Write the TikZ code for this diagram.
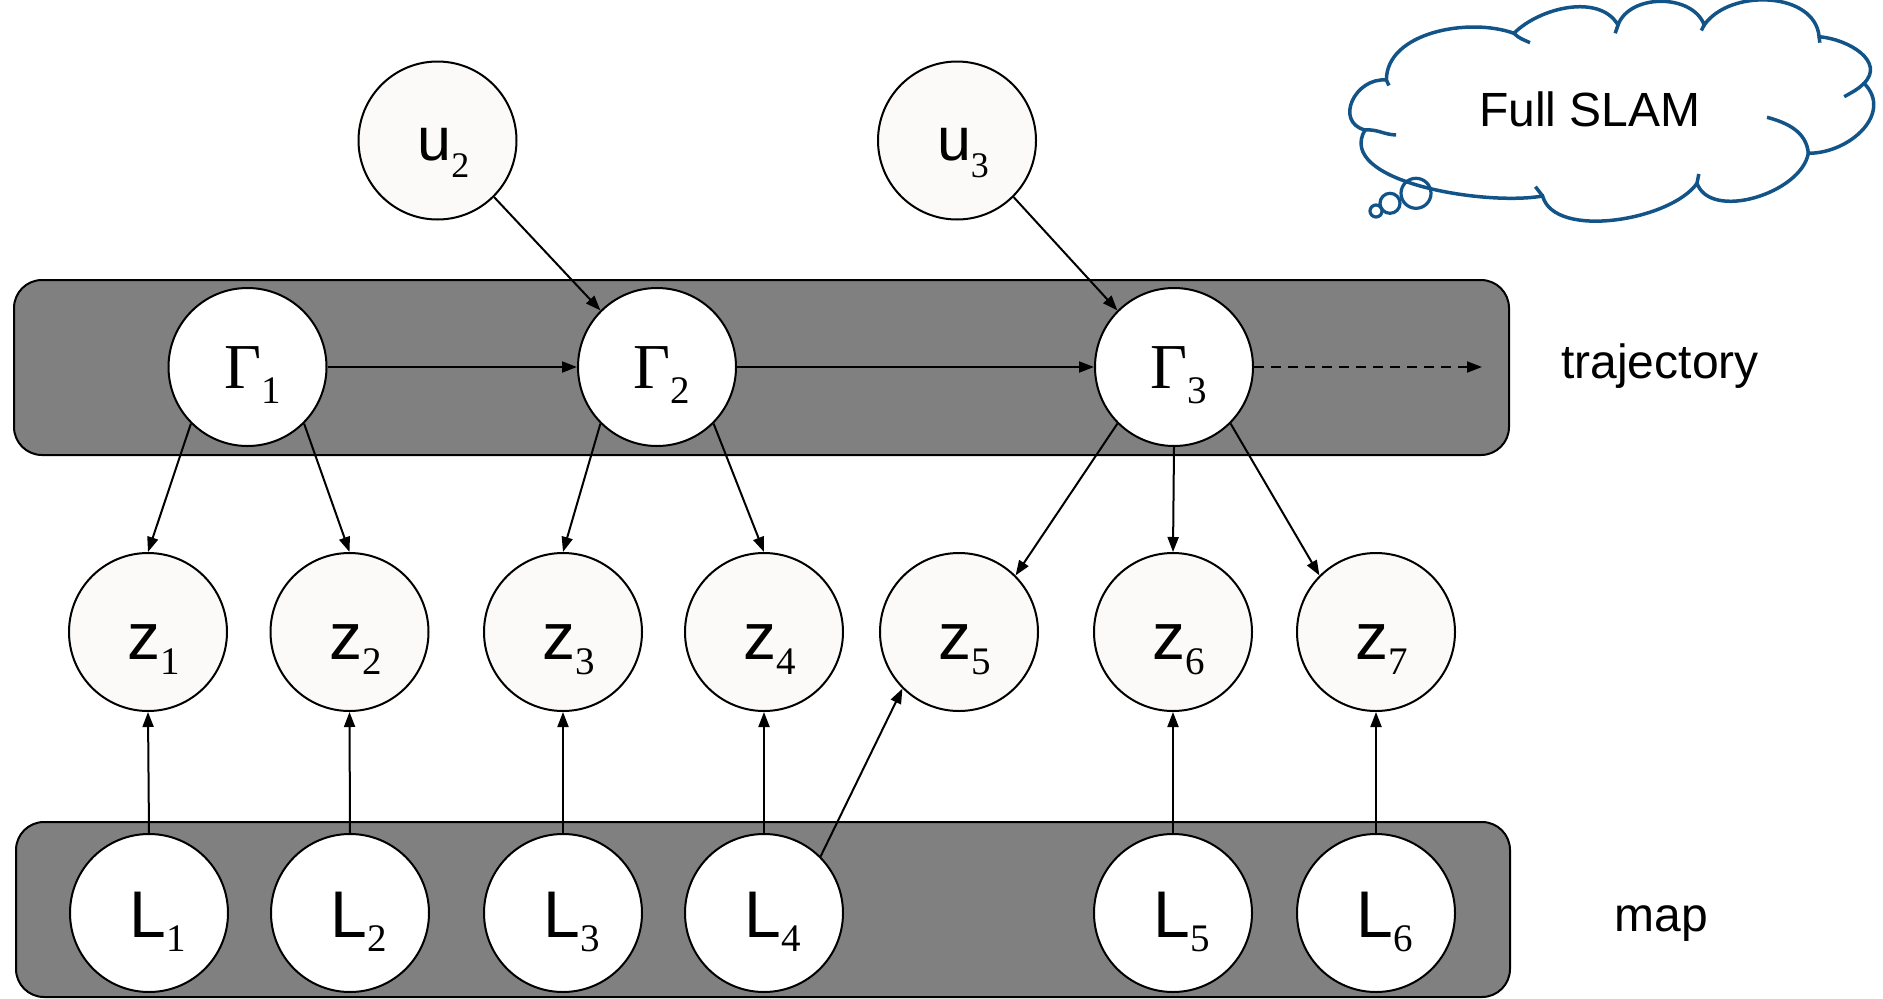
\documentclass[tikz,border=0pt]{standalone}
\usepackage{fontspec}
\setmainfont{Liberation Serif}
\newfontfamily\arialf{Liberation Sans}
\usetikzlibrary{arrows.meta}
\definecolor{offw}{RGB}{251,250,248}
\definecolor{bandgray}{RGB}{128,128,128}
\definecolor{cloudblue}{RGB}{18,84,136}
\newcommand\nlbl[7]{\kern#7pt{#1\fontsize{#2}{#2}\selectfont #3}\raisebox{-#6pt}{\rmfamily\fontsize{#4}{#4}\selectfont #5}}
\begin{document}
\begin{tikzpicture}[x=1pt,y=1pt,
  nd/.style={circle, draw=black, line width=2pt, minimum size=158pt, inner sep=0pt, text depth=0pt},
  zn/.style={nd, fill=offw, text height=54pt},
  un/.style={nd, fill=offw, text height=40pt},
  Ln/.style={nd, fill=white, text height=49pt},
  Gn/.style={nd, fill=white, text height=42pt},
  band/.style={fill=bandgray, draw=black, line width=2pt, rounded corners=28pt},
  arr/.style={draw=black, line width=2pt, -{Triangle[length=15pt,width=11pt]}},
  side/.style={font=\arialf\fontsize{48}{48}\selectfont, anchor=base, inner sep=0pt},
  cl/.style={draw=cloudblue, line width=3.5pt}
]
\useasboundingbox (0,0) rectangle (1883,-999);
% bands
\path[band] (14,-280) rectangle (1509,-455);
\path[band] (16,-822) rectangle (1510,-997);
% nodes
\node[un] (u2) at (437.5,-140.5) {\nlbl{\arialf}{61}{u}{36}{2}{17}{12}};
\node[un] (u3) at (957,-140.5) {\nlbl{\arialf}{61}{u}{36}{3}{17}{12}};
\node[Gn] (G1) at (247.5,-367) {\nlbl{\rmfamily}{64}{Γ}{39}{1}{15}{10}};
\node[Gn] (G2) at (657,-367) {\nlbl{\rmfamily}{64}{Γ}{39}{2}{15}{10}};
\node[Gn] (G3) at (1174,-367) {\nlbl{\rmfamily}{64}{Γ}{39}{3}{15}{10}};
\foreach \i/\x in {1/148,2/349.5,3/563,4/764,5/959,6/1173,7/1376}{
  \node[zn] (z\i) at (\x,-632) {\nlbl{\arialf}{66}{z}{39}{\i}{15}{12}};
}
\foreach \i/\x in {1/149,2/350,3/563,4/764,5/1173,6/1376}{
  \node[Ln] (L\i) at (\x,-913) {\nlbl{\arialf}{66}{L}{39}{\i}{14}{18}};
}
\coordinate (tend) at (1482,-367);
% connectors
\draw[arr] (u2.south east) -- (G2.north west);
\draw[arr] (u3.south east) -- (G3.north west);
\draw[arr] (G1.east) -- (G2.west);
\draw[arr] (G2.east) -- (G3.west);
\draw[arr, dash pattern=on 10pt off 7pt] (G3.east) -- (tend);
\draw[arr] (G1.south west) -- (z1.north);
\draw[arr] (G1.south east) -- (z2.north);
\draw[arr] (G2.south west) -- (z3.north);
\draw[arr] (G2.south east) -- (z4.north);
\draw[arr] (G3.south west) -- (z5.north east);
\draw[arr] (G3.south) -- (z6.north);
\draw[arr] (G3.south east) -- (z7.north west);
\draw[arr] (L1.north) -- (z1.south);
\draw[arr] (L2.north) -- (z2.south);
\draw[arr] (L3.north) -- (z3.south);
\draw[arr] (L4.north) -- (z4.south);
\draw[arr] (L4.north east) -- (z5.south west);
\draw[arr] (L5.north) -- (z6.south);
\draw[arr] (L6.north) -- (z7.south);
% side labels
\node[side] (traj) at (1660,-378) {trajectory};
\node[side] (map) at (1661,-931) {map};
% cloud
\draw[cl] (1386.4,-80)
  to[out=175,in=165,looseness=1.5] (1364.9,-130)
  to[out=240,in=190,looseness=0.8] (1542.6,-196)
  to[out=285,in=235,looseness=0.75] (1697,-183.3)
  to[out=290,in=260,looseness=0.9] (1808.3,-153.3)
  to[out=0,in=315,looseness=1.2] (1864,-83.3)
  to[out=45,in=355,looseness=1.2] (1819.1,-36.7)
  to[out=95,in=55,looseness=1.0] (1704.2,-25)
  to[out=110,in=70,looseness=1.0] (1618,-25)
  to[out=120,in=45,looseness=0.9] (1513.9,-33.3)
  to[out=160,in=90,looseness=0.9] cycle;
% inner arcs
\draw[cl] (1513.9,-33.3) to[out=-45,in=155] (1530,-42.7);
\draw[cl] (1618,-25) -- (1615.2,-33.3);
\draw[cl] (1704.2,-25) -- (1701.3,-30.5);
\draw[cl] (1819.1,-36.7) -- (1819.8,-42.7);
\draw[cl] (1864,-83.3) to[out=225,in=30] (1844.2,-96.7);
\draw[cl] (1767,-117.3) to[out=-15,in=95] (1808.3,-153.3);
\draw[cl] (1697,-183.3) -- (1698.8,-174);
\draw[cl] (1542.6,-196) -- (1535.4,-186.7);
\draw[cl] (1364.9,-130) to[out=5,in=178] (1396.1,-135);
\draw[cl] (1386.4,-80) -- (1388.9,-85.5);
% thought bubbles
\draw[cl, line width=3.2pt] (1416,-193.3) circle[radius=15];
\draw[cl, line width=3.2pt] (1390,-203.3) circle[radius=10];
\draw[cl, line width=3.2pt] (1376,-211) circle[radius=6];
\node[font=\arialf\fontsize{48}{48}\selectfont, anchor=base, inner sep=0pt] (fs) at (1590,-126) {Full SLAM};
\end{tikzpicture}
\end{document}
